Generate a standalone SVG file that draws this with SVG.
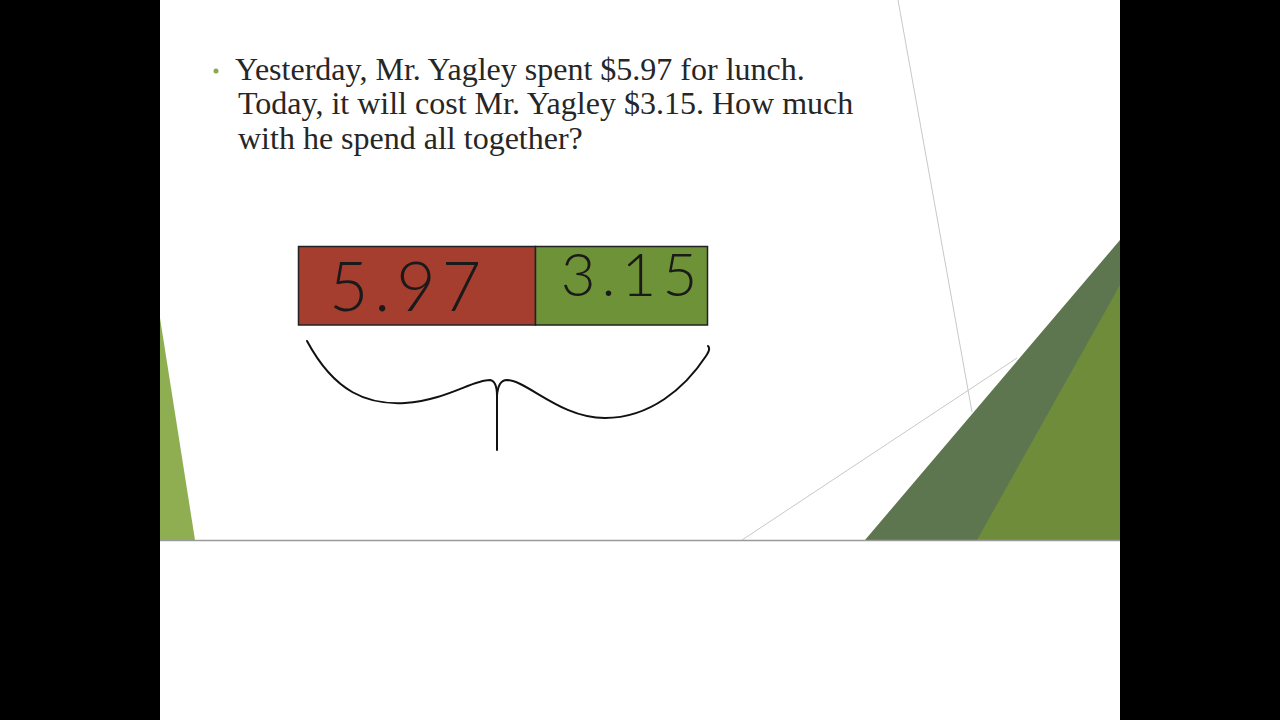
<svg xmlns="http://www.w3.org/2000/svg" width="1280" height="720" viewBox="0 0 1280 720">
<style>
.q{font-family:"Liberation Serif","Times New Roman",serif;font-size:32px;fill:#262626}
.hw{font-family:Lato,"Liberation Sans",sans-serif;font-weight:300;fill:#1a1a1a}
.ink{fill:none;stroke:#111;stroke-width:2;stroke-linecap:round;stroke-linejoin:round}
.thin{stroke:#c8c8c8;stroke-width:1;fill:none}
</style>
<rect x="0" y="0" width="1280" height="720" fill="#000"/>
<rect x="160" y="0" width="960" height="720" fill="#fff"/>
<g id="background">
<line class="thin" x1="898" y1="0" x2="972" y2="412"/>
<line class="thin" x1="742" y1="540" x2="1017" y2="358"/>
<polygon points="865,540 1120,240 1120,540" fill="#5e7650"/>
<polygon points="977,540 1120,285 1120,540" fill="#6e8c3a"/>
<polygon points="160,318 160,540 195,540" fill="#8fae52"/>
<line x1="160" y1="540.5" x2="1120" y2="540.5" stroke="#9a9a9a" stroke-width="1.5"/>
</g>
<g id="question">
<circle cx="216" cy="71" r="2.5" fill="#8aaa4a"/>
<text class="q" x="235" y="80">Yesterday, Mr. Yagley spent $5.97 for lunch.</text>
<text class="q" x="238" y="114">Today, it will cost Mr. Yagley $3.15. How much</text>
<text class="q" x="238" y="149">with he spend all together?</text>
</g>
<g id="bar-597">
<rect x="298.5" y="246.5" width="237" height="78.5" fill="#a63e30" stroke="#222" stroke-width="1.5"/>
<text class="hw" x="408" y="311" font-size="68" text-anchor="middle" letter-spacing="6">5.97</text>
</g>
<g id="bar-315">
<rect x="535.5" y="246.5" width="172" height="78.5" fill="#6e9238" stroke="#222" stroke-width="1.5"/>
<text class="hw" x="632" y="296" font-size="60" text-anchor="middle" letter-spacing="6">3.15</text>
</g>
<g id="connectors">
<path class="ink" d="M307,341 C335,393 368,405 405,403 C447,400 472,380 490,380 Q497,381 497,396 L497,450"/>
<path class="ink" d="M497,396 Q498,380 507,380 C528,381 560,418 605,418 C650,418 685,388 706,356 Q711,349 708,346"/>
</g>
</svg>
